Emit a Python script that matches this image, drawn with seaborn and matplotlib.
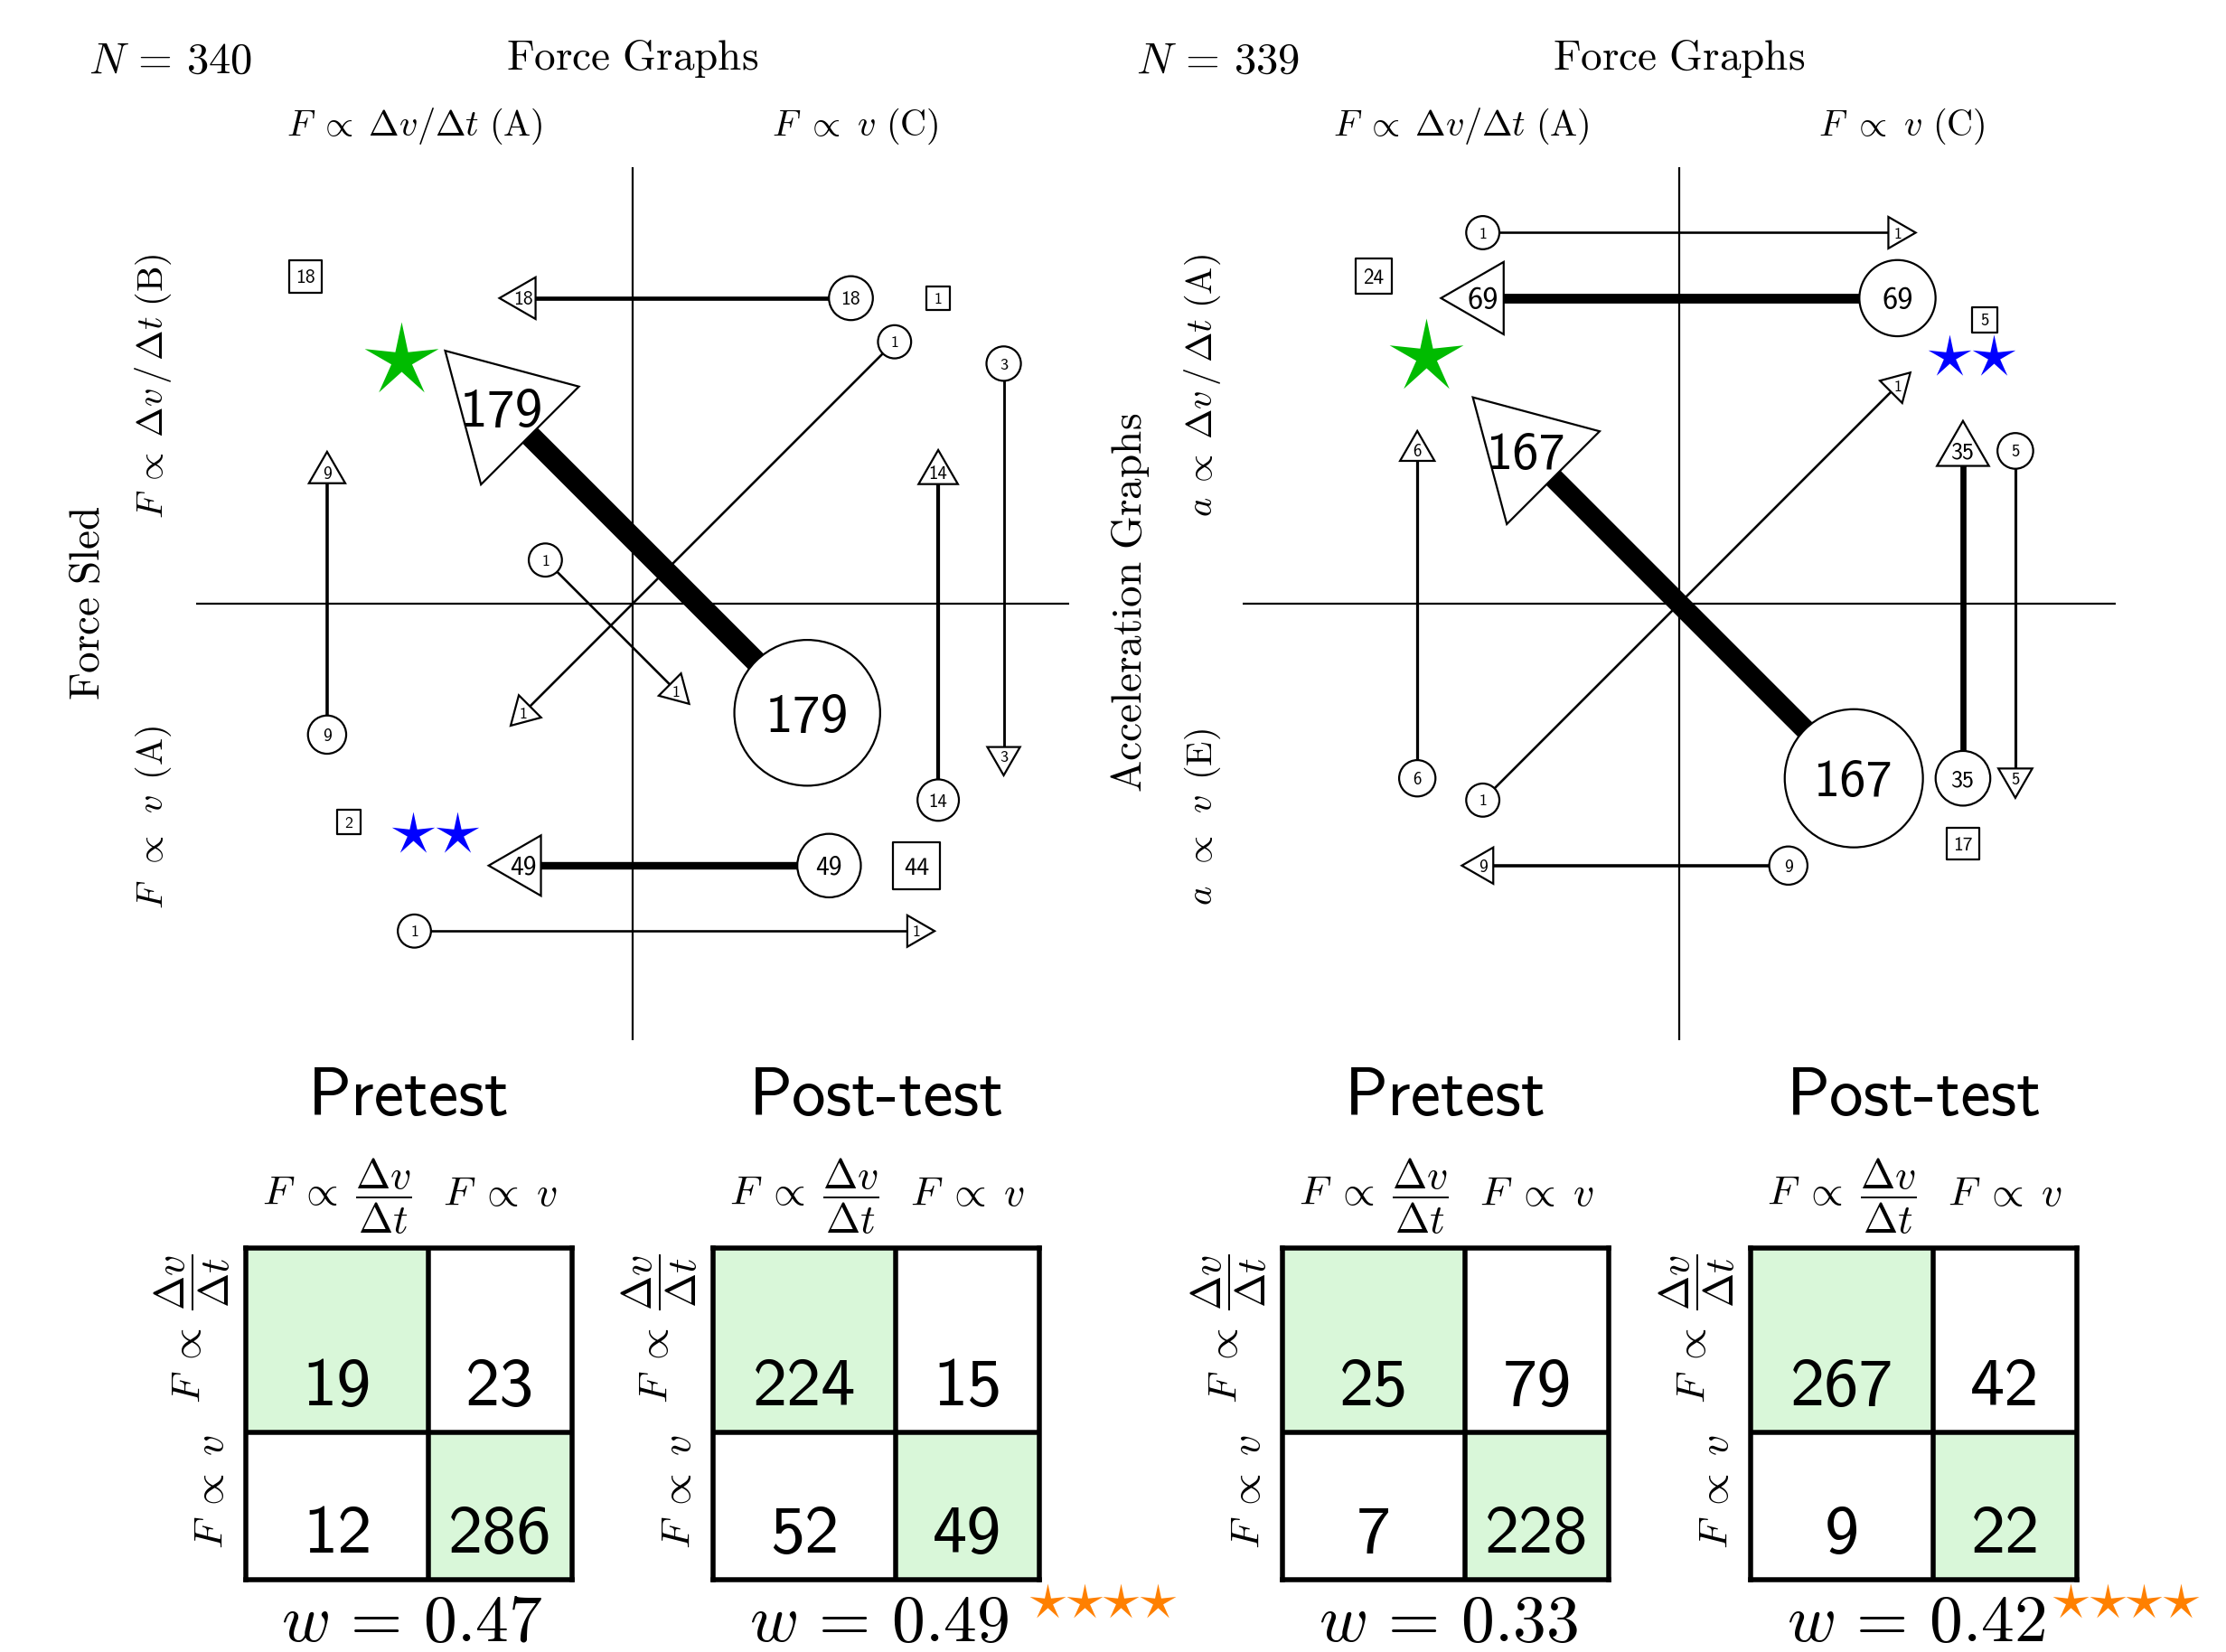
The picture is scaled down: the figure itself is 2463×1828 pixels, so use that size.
import numpy as np
import pandas as pd
import matplotlib
matplotlib.use("Agg")
import matplotlib.pyplot as plt
from matplotlib.path import Path
from matplotlib.patches import Polygon
from matplotlib.colors import ListedColormap
import seaborn as sns

sns.set_theme(style="white")
plt.rcParams["font.family"] = ["DejaVu Sans"]
plt.rcParams["mathtext.fontset"] = "cm"
plt.rcParams["text.color"] = "black"

# ------------------------------------------------------------------ data
# Force sled group: answer changes pretest (circle) -> post-test (triangle)
sled_N = 340
sled_counts = [18, 1, 3, 179, 9, 1, 14, 49, 1]
sled_x0 = [5.0, 6.0, 8.5, 4.0, -7.0, -2.0, 7.0, 4.5, -5.0]
sled_y0 = [7.0, 6.0, 5.5, -2.5, -3.0, 1.0, -4.5, -6.0, -7.5]
sled_x1 = [-2.5, -2.5, 8.5, -3.0, -7.0, 1.0, 7.0, -2.5, 6.5]
sled_y1 = [7.0, -2.5, -3.5, 4.5, 3.0, -2.0, 3.0, -6.0, -7.5]
# students giving the same answer on both tests
sled_same = [18, 1, 2, 44]
sled_same_x = [-7.5, 7.0, -6.5, 6.5]
sled_same_y = [7.5, 7.0, -5.0, -6.0]
sled_green_x, sled_green_y = [-5.3], [5.57]
sled_blue_x, sled_blue_y = [-5.03, -4.02], [-5.28, -5.28]

# Acceleration graphs group
acc_N = 339
acc_counts = [1, 69, 1, 167, 6, 35, 5, 9]
acc_x0 = [-4.5, 5.0, -4.5, 4.0, -6.0, 6.5, 7.7, 2.5]
acc_y0 = [8.5, 7.0, -4.5, -4.0, -4.0, -4.0, 3.5, -6.0]
acc_x1 = [5.0, -4.5, 5.0, -3.5, -6.0, 6.5, 7.7, -4.5]
acc_y1 = [8.5, 7.0, 5.0, 3.5, 3.5, 3.5, -4.0, -6.0]
acc_same = [24, 5, 17]
acc_same_x = [-7.0, 7.0, 6.5]
acc_same_y = [7.5, 6.5, -5.5]
acc_green_x, acc_green_y = [-5.8], [5.65]
acc_blue_x, acc_blue_y = [6.2, 7.2], [5.65, 5.65]

# 2x2 contingency tables (rows: force-graph answer, cols: other answer)
table_titles = ["Pretest", "Post-test", "Pretest", "Post-test"]
table_counts = [
    [[19, 23], [12, 286]],
    [[224, 15], [52, 49]],
    [[25, 79], [7, 228]],
    [[267, 42], [9, 22]],
]
w_values = ["0.47", "0.49", "0.33", "0.42"]
w_stars = [0, 4, 0, 4]

# ------------------------------------------------------------------ layout
W, H, DPI = 2463, 1828, 100
PX = 72 / DPI            # points per pixel
UNIT = 966 / 20          # pixels per data unit in the flow panels
GREEN_CELL = "#d9f7d9"
STAR = Path.unit_regular_star(5, innerCircle=0.28)

fig = plt.figure(figsize=(W / DPI, H / DPI), dpi=DPI)
fig.patch.set_facecolor("white")


def node_diam(n):
    return 36 + 0.7 * np.asarray(n, float)


def stay_side(n):
    return 25 + 0.6 * np.asarray(n, float)


def stroke(n):
    return 2.5 + 0.12 * np.asarray(n, float)


def digit_h(n):
    return 12 + 0.17 * np.asarray(n, float)


def put_label(ax, x, y, n):
    h = float(digit_h(n))
    ax.text(x, y - h / 2 / UNIT, f"{int(n)}", ha="center", va="baseline",
            fontsize=h / 0.69 * PX, family="cmss10", zorder=5)


def draw_panel(ax, counts, x0, y0, x1, y1, same, sx, sy, gx, gy, bx, by):
    ax.set_xlim(-10, 10)
    ax.set_ylim(-10, 10)
    ax.set_axis_off()
    ax.axhline(0, color="black", lw=1.6, zorder=1)
    ax.axvline(0, color="black", lw=1.6, zorder=1)
    counts = np.asarray(counts, float)

    for n, a, b, c, d in zip(counts, x0, y0, x1, y1):
        ax.plot([a, c], [b, d], color="black", lw=float(stroke(n)) * PX,
                solid_capstyle="butt", zorder=2)

    # arrow heads: equilateral triangles pointing along each stroke
    for n, a, b, c, d in zip(counts, x0, y0, x1, y1):
        u = np.array([c - a, d - b], float)
        u /= np.hypot(*u)
        p = np.array([-u[1], u[0]])
        r = 0.95 * float(node_diam(n)) / np.sqrt(3) / UNIT
        ctr = np.array([c, d], float)
        verts = [ctr + r * u,
                 ctr - r / 2 * u + r * np.sqrt(3) / 2 * p,
                 ctr - r / 2 * u - r * np.sqrt(3) / 2 * p]
        ax.add_patch(Polygon(verts, closed=True, fc="white", ec="black",
                             lw=1.6, zorder=3, clip_on=False))
        put_label(ax, c, d, n)

    start = pd.DataFrame({"x": x0, "y": y0, "n": counts})
    sns.scatterplot(data=start, x="x", y="y",
                    s=(node_diam(start["n"]) * PX) ** 2, marker="o",
                    color="white", edgecolor="black", linewidth=1.6,
                    zorder=3, legend=False, ax=ax, clip_on=False)
    for n, a, b in zip(counts, x0, y0):
        put_label(ax, a, b, n)

    stay = pd.DataFrame({"x": sx, "y": sy, "n": np.asarray(same, float)})
    sns.scatterplot(data=stay, x="x", y="y",
                    s=(stay_side(stay["n"]) * PX) ** 2, marker="s",
                    color="white", edgecolor="black", linewidth=1.6,
                    zorder=3, legend=False, ax=ax, clip_on=False)
    for n, a, b in zip(same, sx, sy):
        put_label(ax, a, b, n)

    sns.scatterplot(x=gx, y=gy, marker=STAR, s=(86 * PX) ** 2,
                    color="#00bb00", linewidth=0, legend=False, ax=ax,
                    zorder=4, clip_on=False)
    sns.scatterplot(x=bx, y=by, marker=STAR, s=(50 * PX) ** 2,
                    color="#0000ff", linewidth=0, legend=False, ax=ax,
                    zorder=4, clip_on=False)
    ax.set_xlabel("")
    ax.set_ylabel("")


PANEL_TOP, PANEL_SIZE = 185, 966
ax_sled = fig.add_axes([217 / W, 1 - (PANEL_TOP + PANEL_SIZE) / H,
                        PANEL_SIZE / W, PANEL_SIZE / H])
draw_panel(ax_sled, sled_counts, sled_x0, sled_y0, sled_x1, sled_y1,
           sled_same, sled_same_x, sled_same_y,
           sled_green_x, sled_green_y, sled_blue_x, sled_blue_y)

ax_acc = fig.add_axes([1375 / W, 1 - (PANEL_TOP + PANEL_SIZE) / H,
                       PANEL_SIZE / W, PANEL_SIZE / H])
draw_panel(ax_acc, acc_counts, acc_x0, acc_y0, acc_x1, acc_y1,
           acc_same, acc_same_x, acc_same_y,
           acc_green_x, acc_green_y, acc_blue_x, acc_blue_y)

# ------------------------------------------------------------------ tables
TABLE_LEFT = [272, 789, 1419, 1937]
TABLE_TOP = 1381
COL_W = [202, 159]
ROW_H = [204, 163]
GRID_LW = 5.5 * PX

for k in range(4):
    tw, th = sum(COL_W), sum(ROW_H)
    left = TABLE_LEFT[k]
    tax = fig.add_axes([left / W, 1 - (TABLE_TOP + th) / H, tw / W, th / H])
    xe = np.concatenate([[0], np.cumsum(COL_W)])
    ye = np.concatenate([[0], np.cumsum(ROW_H)])
    diag = np.eye(2)
    tax.pcolormesh(xe, ye, diag, cmap=ListedColormap(["white", GREEN_CELL]),
                   vmin=0, vmax=1)
    tax.set_xlim(0, tw)
    tax.set_ylim(th, 0)
    tax.axvline(xe[1], color="black", lw=GRID_LW)
    tax.axhline(ye[1], color="black", lw=GRID_LW)
    tax.set_xticks([])
    tax.set_yticks([])
    for sp in tax.spines.values():
        sp.set_visible(True)
        sp.set_color("black")
        sp.set_linewidth(GRID_LW)
    for r in range(2):
        for c in range(2):
            tax.text((xe[c] + xe[c + 1]) / 2, ye[r + 1] - 30,
                     str(table_counts[k][r][c]), ha="center", va="baseline",
                     fontsize=55, family="cmss10")

# ------------------------------------------------------------------ overlay text
ov = fig.add_axes([0, 0, 1, 1])
ov.set_xlim(0, W)
ov.set_ylim(H, 0)
ov.set_axis_off()

for cx, ncount, left_n in [(700, sled_N, 98), (1858, acc_N, 1257)]:
    ov.text(left_n, 81, rf"$N\,=\,{ncount}$", fontsize=35, ha="left",
            va="baseline")
    ov.text(cx, 77, r"$\mathrm{Force\ Graphs}$", fontsize=34, ha="center",
            va="baseline")
    ov.text(cx - 241, 150, r"$F\;\propto\;\Delta v/\Delta t\ (\mathrm{A})$",
            fontsize=29, ha="center", va="baseline")
    ov.text(cx + 246, 150, r"$F\ \propto\ v\ (\mathrm{C})$",
            fontsize=29, ha="center", va="baseline")

side_labels = [
    (97, 667, r"$\mathrm{Force\ Sled}$", 34),
    (170, 427, r"$F\;\propto\;\Delta v\,/\,\Delta t\ (\mathrm{B})$", 29),
    (170, 904, r"$F\ \,\propto\ \,v\ \,(\mathrm{A})$", 29),
    (1251, 667, r"$\mathrm{Acceleration\ Graphs}$", 34),
    (1331, 427, r"$a\;\propto\;\Delta v\,/\,\Delta t\ (\mathrm{A})$", 29),
    (1331, 904, r"$a\ \,\propto\ \,v\ \,(\mathrm{E})$", 29),
]
for x, y, s, fs in side_labels:
    ov.text(x, y, s, fontsize=fs, rotation=90, ha="center", va="center")

frac_lab = r"$F\;\propto\;\dfrac{\Delta v}{\Delta t}$"
v_lab = r"$F\;\propto\;v$"
star_x0 = [None, 1159, None, 2291]
for k in range(4):
    left = TABLE_LEFT[k]
    tw = sum(COL_W)
    cx = left + tw / 2
    ov.text(cx, 1234, table_titles[k], fontsize=54, family="cmss10",
            ha="center", va="baseline")
    ov.text(left + COL_W[0] / 2, 1334, frac_lab, fontsize=33,
            ha="center", va="baseline")
    ov.text(left + COL_W[0] + COL_W[1] / 2, 1334, v_lab, fontsize=33,
            ha="center", va="baseline")
    ov.text(left - 15, TABLE_TOP + ROW_H[0] / 2 - 13, frac_lab, fontsize=33,
            rotation=90, ha="right", va="center")
    ov.text(left - 15, TABLE_TOP + ROW_H[0] + ROW_H[1] / 2 - 16, v_lab,
            fontsize=33, rotation=90, ha="right", va="center")
    ov.text(cx + 3, 1816, rf"$w\,=\,{w_values[k]}$", fontsize=53, ha="center",
            va="baseline")
    if w_stars[k]:
        xs = star_x0[k] + 40.5 * np.arange(w_stars[k])
        sns.scatterplot(x=xs, y=np.full(w_stars[k], 1773.0), marker=STAR,
                        s=(42 * PX) ** 2, color="#ff8000", linewidth=0,
                        legend=False, ax=ov, clip_on=False)
ov.set_xlim(0, W)
ov.set_ylim(H, 0)
ov.set_axis_off()

fig.savefig("out.png", dpi=DPI, facecolor="white")
